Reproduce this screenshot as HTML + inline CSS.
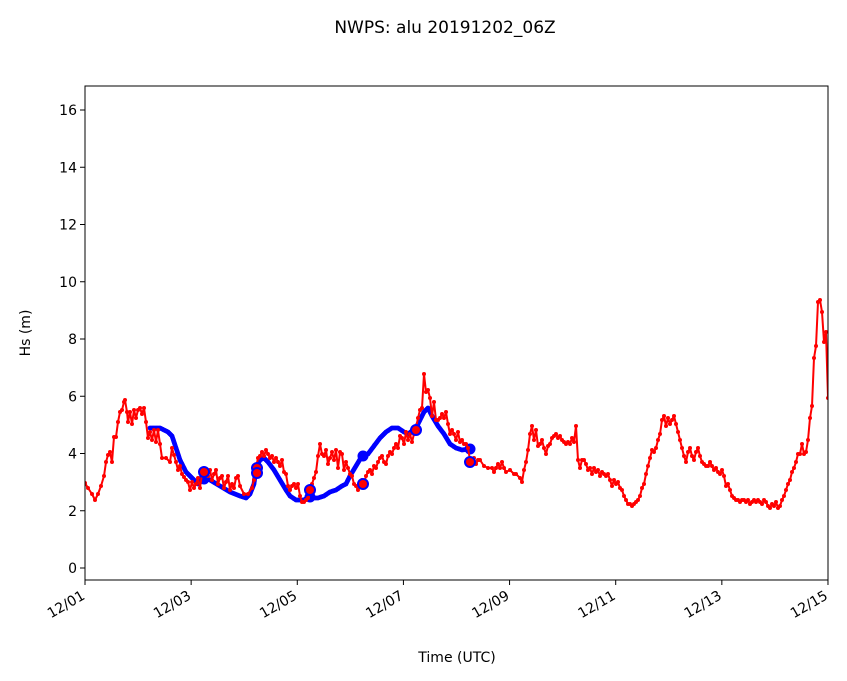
<!DOCTYPE html>
<html><head><meta charset="utf-8"><style>
body{margin:0;background:#fff}
svg{display:block;font-family:"DejaVu Sans","Liberation Sans",sans-serif}
</style></head><body>
<svg id="s" width="847" height="681" viewBox="0 0 847 681" xmlns="http://www.w3.org/2000/svg">
<rect width="847" height="681" fill="#fff"/>
<text x="445" y="33" font-size="17" text-anchor="middle">NWPS: alu 20191202_06Z</text>
<defs><clipPath id="c"><rect x="85" y="86" width="743" height="494"/></clipPath></defs>
<g id="plot" clip-path="url(#c)"></g>
<rect x="85" y="86" width="743" height="494" fill="none" stroke="#000" stroke-width="1"/>
<g id="ax" font-size="14"></g>
<text x="457" y="662" font-size="14" text-anchor="middle">Time (UTC)</text>
<text transform="translate(30,333) rotate(-90)" font-size="14" text-anchor="middle">Hs (m)</text>
</svg>
<script>
var NS="http://www.w3.org/2000/svg";
function el(p,t,a){var e=document.createElementNS(NS,t);for(var k in a)e.setAttribute(k,a[k]);p.appendChild(e);return e;}
var ax=document.getElementById('ax'),plot=document.getElementById('plot');
for(var v=0;v<=16;v+=2){var y=568-28.625*v;el(ax,'line',{x1:80,x2:85,y1:y,y2:y,stroke:'#000'});var t=el(ax,'text',{x:77,y:y+5,'text-anchor':'end'});t.textContent=v;}
var labs=['12/01','12/03','12/05','12/07','12/09','12/11','12/13','12/15'];
for(var i=0;i<8;i++){var x=85+i*106.14;el(ax,'line',{x1:x,x2:x,y1:580,y2:585,stroke:'#000'});var t=el(ax,'text',{transform:'translate('+(x-4)+',590) rotate(-30)','text-anchor':'end','dominant-baseline':'hanging'});t.textContent=labs[i];}
var blue=[150,428,160,428,168,432,172,436,176,448,180,460,186,472,192,478,198,484,204,478,210,480,220,486,230,492,240,496,246,498,250,494,254,484,256,468,260,460,264,458,268,462,274,470,280,480,286,490,290,496,296,500,304,500,310,496,312,498,318,498,324,496,330,492,336,490,342,486,346,484,350,476,356,466,362,456,368,454,374,446,380,438,386,432,392,428,398,428,404,432,408,434,416,428,420,420,424,412,428,408,432,416,438,426,444,434,450,444,456,448,462,450,470,449];
var red=[85,483,88,488,92,494,95,500,98,494,101,486,104,476,106,462,108,455,110,452,112,462,114,437,116,437,118,422,120,412,122,410,124,402,125,400,127,412,128,422,130,412,132,424,134,410,136,418,138,410,140,408,142,414,144,408,146,422,148,438,150,432,152,440,154,430,156,442,158,430,160,444,162,458,166,458,170,462,172,448,174,455,176,462,178,470,180,466,182,474,184,477,186,480,188,482,190,490,192,482,194,488,196,484,198,478,200,488,202,474,204,472,206,470,208,476,210,470,212,480,214,474,216,470,218,484,220,478,222,476,224,488,226,482,228,476,230,490,232,484,234,488,236,478,238,476,240,486,244,494,248,494,252,488,254,480,256,468,258,458,260,456,262,452,264,456,266,450,268,454,270,458,272,456,274,462,276,458,278,462,280,466,282,460,284,472,286,474,288,486,290,490,292,486,294,484,296,488,298,484,300,496,302,502,304,502,306,500,308,498,310,494,312,484,314,478,316,472,318,456,320,444,322,454,324,456,326,450,328,464,330,458,332,452,334,460,336,450,338,468,340,452,342,454,344,470,346,462,348,468,350,474,352,476,354,484,356,486,358,490,360,484,362,480,364,484,366,476,368,472,370,470,372,474,374,466,376,468,378,462,380,458,382,456,384,462,386,464,388,456,390,452,392,454,394,448,396,444,398,448,400,436,402,438,404,444,406,432,408,440,410,434,412,442,414,434,416,428,418,418,420,410,422,408,424,374,426,392,428,390,430,398,432,416,434,402,436,420,438,420,440,418,442,414,444,418,446,412,448,424,450,434,452,430,454,434,456,440,458,432,460,442,462,440,464,444,466,444,468,448,470,460,474,458,476,464,478,460,480,460,484,466,488,468,492,468,494,472,496,468,498,464,500,468,502,462,504,468,506,472,510,470,514,474,516,474,520,478,522,482,524,470,526,462,528,450,530,434,532,426,534,440,536,430,538,446,540,444,542,440,544,448,546,454,548,446,550,444,552,438,554,436,556,434,558,438,560,436,562,440,564,442,566,444,568,442,570,444,572,438,574,442,576,426,578,460,580,468,582,460,584,460,586,464,588,470,590,468,592,474,594,468,596,472,598,470,600,476,602,472,604,474,606,476,608,474,610,480,612,486,614,480,616,484,618,482,620,488,622,490,624,496,626,500,628,504,630,504,632,506,634,504,636,502,638,500,640,496,642,488,644,484,646,474,648,466,650,458,652,450,654,452,656,448,658,440,660,434,662,420,664,416,666,426,668,418,670,424,672,420,674,416,676,424,678,432,680,440,682,448,684,456,686,462,688,452,690,448,692,456,694,460,696,452,698,448,700,456,702,462,704,464,706,466,708,466,710,462,712,466,714,470,716,468,718,472,720,474,722,470,724,476,726,486,728,484,730,490,732,496,734,498,736,500,738,500,740,502,742,500,744,500,746,502,748,500,750,504,752,502,754,500,756,502,758,500,760,502,762,504,764,500,766,502,768,506,770,508,772,504,774,506,776,502,778,508,780,506,782,500,784,496,786,490,788,484,790,480,792,472,794,468,796,462,798,454,800,454,802,444,804,454,806,452,808,440,810,418,812,406,814,358,816,346,818,302,820,300,822,312,824,342,826,332,828,398];
function dense(a){var o=[];for(var i=0;i<a.length-2;i+=2){var n=Math.max(1,Math.ceil(Math.hypot(a[i+2]-a[i],a[i+3]-a[i+1])/1.5));for(var k=0;k<n;k++){o.push(a[i]+(a[i+2]-a[i])*k/n,a[i+1]+(a[i+3]-a[i+1])*k/n);}}o.push(a[a.length-2],a[a.length-1]);return o;}
function series(a,col,r,w){var p='';for(var i=0;i<a.length;i+=2)p+=a[i]+','+a[i+1]+' ';el(plot,'polyline',{points:p,fill:'none',stroke:col,'stroke-width':w,'stroke-linejoin':'round'});for(var i=0;i<a.length;i+=2)el(plot,'circle',{cx:a[i],cy:a[i+1],r:r,fill:col});}
series(dense(blue),'#0000ff',2.4,2);
[[204,479],[310,497],[363,456],[470,449]].forEach(function(p){el(plot,'circle',{cx:p[0],cy:p[1],r:5.5,fill:'#0000ff'});});
series(red,'#ff0000',2,2);
[[204,472],[257,468],[257,473],[310,490],[363,484],[416,430],[470,462]].forEach(function(p){el(plot,'circle',{cx:p[0],cy:p[1],r:5,fill:'#ff0000',stroke:'#0000ff','stroke-width':2});});
</script>
</body></html>
